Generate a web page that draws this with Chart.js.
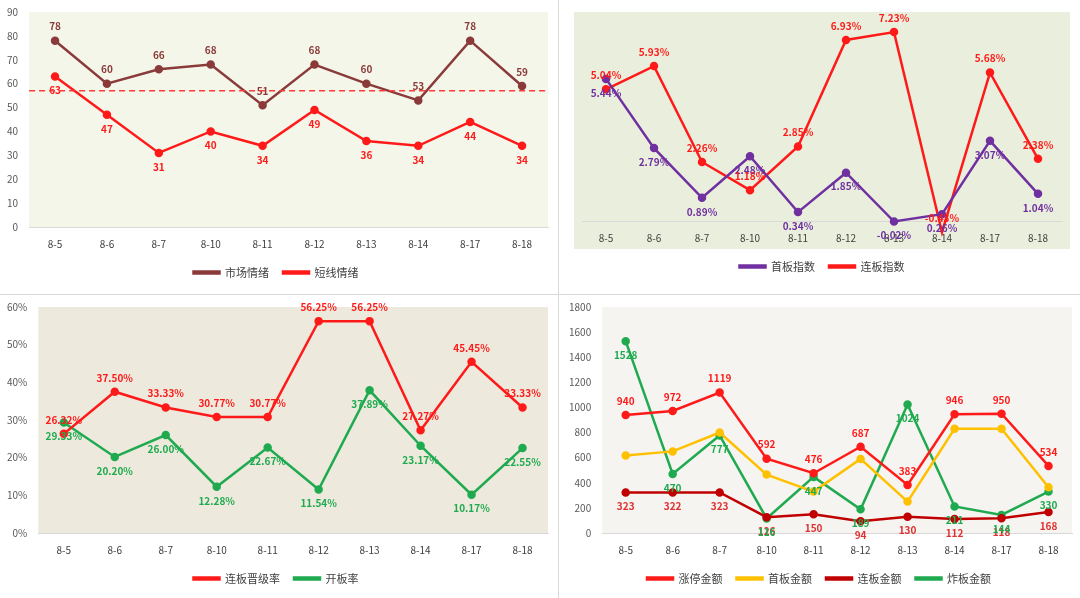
<!DOCTYPE html>
<html><head><meta charset="utf-8">
<script src="https://cdn.jsdelivr.net/npm/chart.js@4"></script>
<style>
body{margin:0;background:#fff;width:1080px;height:598px;position:relative;overflow:hidden;font-family:"Noto Sans CJK SC","Noto Sans",sans-serif}
.p{position:absolute}
.sep{position:absolute;background:#d9d9d9}
</style></head><body>
<div class="p" style="left:0;top:0;width:556px;height:292px"><canvas id="c1"></canvas></div>
<div class="p" style="left:562px;top:0;width:518px;height:292px"><canvas id="c2"></canvas></div>
<div class="p" style="left:0;top:298px;width:556px;height:300px"><canvas id="c3"></canvas></div>
<div class="p" style="left:562px;top:298px;width:518px;height:300px"><canvas id="c4"></canvas></div>
<div class="sep" style="left:558px;top:0;width:1px;height:598px"></div>
<div class="sep" style="left:0;top:294px;width:1080px;height:1px"></div>
<script>
const days = ['8-5','8-6','8-7','8-10','8-11','8-12','8-13','8-14','8-17','8-18'];
const marketMood = [78,60,66,68,51,68,60,53,78,59];
const shortMood = [63,47,31,40,34,49,36,34,44,34];
const moodLine = 57;
const firstIdx = [5.44,2.79,0.89,2.48,0.34,1.85,-0.02,0.26,3.07,1.04];
const multiIdx = [5.04,5.93,2.26,1.18,2.85,6.93,7.23,-0.43,5.68,2.38];
const promoRate = [26.32,37.50,33.33,30.77,30.77,56.25,56.25,27.27,45.45,33.33];
const openRate = [29.33,20.20,26.00,12.28,22.67,11.54,37.89,23.17,10.17,22.55];
const limitAmt = [940,972,1119,592,476,687,383,946,950,534];
const firstAmt = [617,650,800,465,330,590,250,830,830,365];
const multiAmt = [323,322,323,126,150,94,130,112,118,168];
const brokeAmt = [1528,470,777,116,447,189,1024,211,144,330];

Chart.defaults.font.family = '"Noto Sans CJK SC","Noto Sans",sans-serif';
Chart.defaults.font.size = 10;
Chart.defaults.color = '#595959';
Chart.defaults.animation = false;

const bgPlugin = {
  id: 'bg',
  beforeDraw(chart, args, opts) {
    const a = chart.chartArea, c = chart.ctx;
    c.save();
    c.fillStyle = opts.color;
    c.fillRect(a.left - (opts.l || 0), a.top - (opts.t || 0), a.right - a.left + (opts.l || 0) + (opts.r || 0), a.bottom - a.top + (opts.t || 0) + (opts.b || 0));
    c.restore();
  }
};
const labelPlugin = {
  id: 'vals',
  afterDatasetsDraw(chart) {
    const c = chart.ctx;
    chart.data.datasets.forEach((ds, i) => {
      if (!ds.labelPos) return;
      const meta = chart.getDatasetMeta(i);
      c.save();
      c.font = 'bold 10px "Noto Sans CJK SC",sans-serif';
      c.fillStyle = ds.labelColor || ds.borderColor;
      c.textAlign = 'center';
      c.textBaseline = 'middle';
      meta.data.forEach((pt, j) => {
        const v = ds.data[j];
        const t = ds.fmt ? ds.fmt(v) : String(v);
        c.fillText(t, pt.x, pt.y + (ds.labelPos === 'above' ? -14 : 14));
      });
      c.restore();
    });
  }
};
const hlinePlugin = {
  id: 'hline',
  afterDatasetsDraw(chart, args, opts) {
    if (opts.value == null) return;
    const y = chart.scales.y.getPixelForValue(opts.value), a = chart.chartArea, c = chart.ctx;
    c.save();
    c.strokeStyle = '#ff3b3b'; c.lineWidth = 1.5; c.setLineDash([6, 4]);
    c.beginPath(); c.moveTo(a.left, y); c.lineTo(a.right, y); c.stroke();
    c.restore();
  }
};
Chart.register(bgPlugin, labelPlugin, hlinePlugin);

function line(label, data, color, pos, fmt) {
  return { label, data, borderColor: color, backgroundColor: color, borderWidth: 2.5,
    pointRadius: 3, pointBackgroundColor: color, labelPos: pos, fmt, clip: false, tension: 0 };
}
function opts(bg, y, extra) {
  return Object.assign({
    responsive: true, maintainAspectRatio: false,
    layout: { padding: { top: 10, right: 8, left: 4, bottom: 4 } },
    plugins: {
      bg: bg,
      hline: {},
      tooltip: { enabled: false },
      legend: { position: 'bottom', labels: { boxWidth: 26, boxHeight: 2, color: '#404040', font: { size: 11 }, padding: 14 } }
    },
    scales: {
      x: { offset: true, grid: { display: false }, border: { color: '#d9d9d9' }, ticks: { color: '#404040' } },
      y: y
    }
  }, extra || {});
}
const pct = v => v.toFixed(2) + '%';
const plain = v => String(v);

const o1 = opts({ color: '#f3f6e9' }, { min: 0, max: 90, ticks: { stepSize: 10 }, grid: { display: false }, border: { display: false } });
o1.plugins.hline = { value: moodLine };
o1.layout.padding.top = 12;
new Chart(document.getElementById('c1'), { type: 'line',
  data: { labels: days, datasets: [line('市场情绪', marketMood, '#8b3a3a', 'above'), line('短线情绪', shortMood, '#ff1a1a', 'below')] },
  options: o1 });

const o2 = opts({ color: '#e9efdc', l: 8, r: 8, t: 0, b: 28 }, { display: false, min: 0, max: 8 });
o2.layout.padding = { top: 12, right: 18, left: 20, bottom: 10 };
new Chart(document.getElementById('c2'), { type: 'line',
  data: { labels: days, datasets: [line('首板指数', firstIdx, '#7030a0', 'below', pct), line('连板指数', multiIdx, '#ff1a1a', 'above', pct)] },
  options: o2 });

const o3 = opts({ color: '#ede9dc' }, { min: 0, max: 60, ticks: { stepSize: 10, callback: v => v + '%' }, grid: { display: false }, border: { display: false } });
o3.layout.padding.top = 8;
new Chart(document.getElementById('c3'), { type: 'line',
  data: { labels: days, datasets: [line('连板晋级率', promoRate, '#ff1a1a', 'above', pct), line('开板率', openRate, '#1faa50', 'below', pct)] },
  options: o3 });

const o4 = opts({ color: '#f5f4f0' }, { min: 0, max: 1800, ticks: { stepSize: 200, callback: plain }, grid: { display: false }, border: { display: false } });
o4.layout.padding.top = 8;
const ds4 = [line('涨停金额', limitAmt, '#ff1a1a', 'above'), line('首板金额', firstAmt, '#ffc000', null),
  line('连板金额', multiAmt, '#c00000', 'below'), line('炸板金额', brokeAmt, '#1faa50', 'below')];
ds4[2].labelColor = '#e03030';
new Chart(document.getElementById('c4'), { type: 'line', data: { labels: days, datasets: ds4 }, options: o4 });
</script>
</body></html>
